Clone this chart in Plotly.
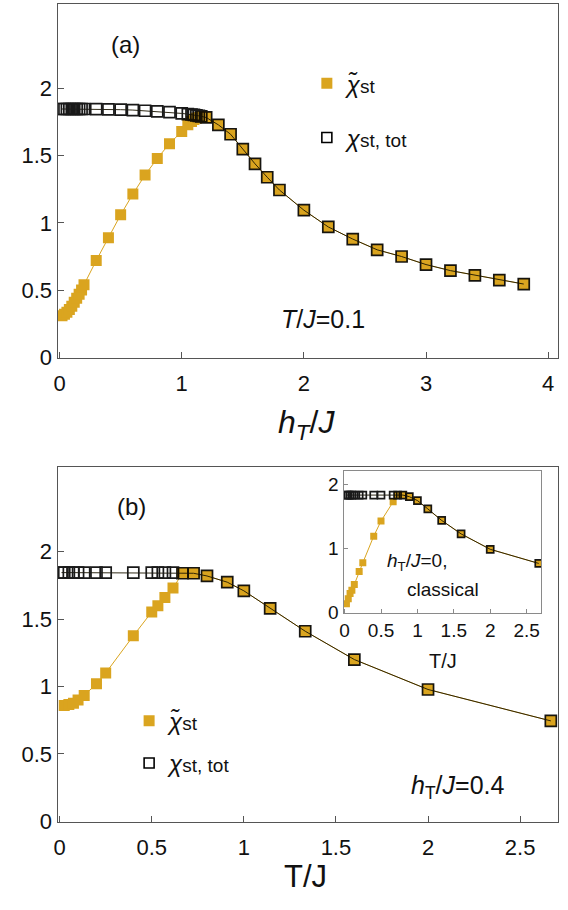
import plotly.graph_objects as go

# ---------------- data ----------------
# panel (a): T/J = 0.1, field dependence
ha_gold = [0.02, 0.04, 0.06, 0.08, 0.10, 0.12, 0.14, 0.16, 0.18, 0.20,
           0.3, 0.4, 0.5, 0.6, 0.7, 0.8, 0.9, 1.0, 1.05, 1.08, 1.1, 1.12, 1.14, 1.16,
           1.2, 1.3, 1.4, 1.5, 1.6, 1.7, 1.8, 2.0, 2.2, 2.4, 2.6, 2.8, 3.0, 3.2, 3.4, 3.6, 3.8]
chi_a_gold = [0.31, 0.32, 0.335, 0.355, 0.38, 0.41, 0.44, 0.47, 0.50, 0.54,
              0.72, 0.89, 1.06, 1.215, 1.357, 1.48, 1.59, 1.68, 1.73, 1.755, 1.77, 1.78, 1.785, 1.79,
              1.785, 1.73, 1.66, 1.55, 1.44, 1.34, 1.245, 1.095, 0.97, 0.88, 0.80, 0.75, 0.69, 0.645, 0.61, 0.575, 0.545]
ha_tot = [0.02, 0.04, 0.06, 0.08, 0.10, 0.12, 0.14, 0.16, 0.18, 0.20,
          0.3, 0.4, 0.5, 0.6, 0.7, 0.8, 0.9, 1.0, 1.05, 1.08, 1.1, 1.12, 1.14, 1.16,
          1.2, 1.3, 1.4, 1.5, 1.6, 1.7, 1.8, 2.0, 2.2, 2.4, 2.6, 2.8, 3.0, 3.2, 3.4, 3.6, 3.8]
chi_a_tot = [1.848, 1.848, 1.848, 1.848, 1.848, 1.848, 1.848, 1.848, 1.848, 1.848,
             1.847, 1.845, 1.843, 1.84, 1.835, 1.83, 1.825, 1.815, 1.81, 1.807, 1.805, 1.80, 1.797, 1.793,
             1.785, 1.73, 1.66, 1.55, 1.44, 1.34, 1.245, 1.095, 0.97, 0.88, 0.80, 0.75, 0.69, 0.645, 0.61, 0.575, 0.545]

# panel (b): h_T/J = 0.4, temperature dependence
tb_gold = [0.025, 0.05, 0.075, 0.1, 0.1333, 0.2, 0.25, 0.4, 0.5, 0.5333, 0.5714, 0.6154,
           0.6667, 0.7273, 0.8, 0.91, 1.0, 1.1429, 1.3333, 1.6, 2.0, 2.6667]
chi_b_gold = [0.86, 0.866, 0.875, 0.90, 0.934, 1.02, 1.10, 1.376, 1.553, 1.60, 1.66, 1.73,
              1.84, 1.84, 1.82, 1.774, 1.71, 1.58, 1.41, 1.20, 0.978, 0.745]
tb_tot = [0.01, 0.025, 0.05, 0.075, 0.1, 0.1333, 0.2, 0.25, 0.4, 0.5, 0.5333, 0.5714, 0.6154,
          0.6667, 0.7273, 0.8, 0.91, 1.0, 1.1429, 1.3333, 1.6, 2.0, 2.6667]
chi_b_tot = [1.845, 1.845, 1.845, 1.845, 1.845, 1.845, 1.845, 1.845, 1.845, 1.845, 1.845, 1.845, 1.845,
             1.84, 1.84, 1.82, 1.774, 1.71, 1.58, 1.41, 1.20, 0.978, 0.745]

# inset: h_T/J = 0, classical
ti_gold = [0.025, 0.05, 0.075, 0.1, 0.1333, 0.2, 0.25, 0.4, 0.5, 0.6667,
           0.7273, 0.8, 0.8889, 1.0, 1.1429, 1.3333, 1.6, 2.0, 2.6667]
chi_i_gold = [0.14, 0.22, 0.30, 0.35, 0.44, 0.645, 0.78, 1.195, 1.43, 1.73,
              1.835, 1.835, 1.81, 1.75, 1.62, 1.44, 1.23, 0.99, 0.77]
ti_tot = [0.025, 0.05, 0.075, 0.1, 0.1333, 0.2, 0.25, 0.4, 0.5, 0.6667,
          0.7273, 0.8, 0.8889, 1.0, 1.1429, 1.3333, 1.6, 2.0, 2.6667]
chi_i_tot = [1.835, 1.835, 1.835, 1.835, 1.835, 1.835, 1.835, 1.835, 1.835, 1.835,
             1.835, 1.835, 1.81, 1.75, 1.62, 1.44, 1.23, 0.99, 0.77]

# tick labels
xa_ticks = [0, 1, 2, 3, 4]
xa_text = ["0", "1", "2", "3", "4"]
y_ticks = [0, 0.5, 1, 1.5, 2]
y_text = ["0", "0.5", "1", "1.5", "2"]
xb_ticks = [0, 0.5, 1, 1.5, 2, 2.5]
xb_text = ["0", "0.5", "1", "1.5", "2", "2.5"]
yi_ticks = [0, 1, 2]
yi_text = ["0", "1", "2"]

# ---------------- styling ----------------
W, H = 568, 910
GOLD = "#DAA520"
DARK = "#1c1600"
FONT = "Liberation Sans"
FRAME = "#555555"
INSET_FRAME = "#8a8a8a"


def px(x0, x1):
    return [x0 / W, x1 / W]


def py(top, bottom):
    return [1 - bottom / H, 1 - top / H]


fig = go.Figure()


def add_pair(xg, yg, xt, yt, xa, ya, msize, lw):
    fig.add_trace(go.Scatter(x=xg, y=yg, xaxis=xa, yaxis=ya, mode="lines+markers",
                             line=dict(color=GOLD, width=lw),
                             marker=dict(symbol="square", size=msize, color=GOLD,
                                         line=dict(width=0)),
                             showlegend=False, hoverinfo="skip"))
    fig.add_trace(go.Scatter(x=xt, y=yt, xaxis=xa, yaxis=ya, mode="lines+markers",
                             line=dict(color=DARK, width=lw),
                             marker=dict(symbol="square-open", size=msize, color="black",
                                         line=dict(width=1.7, color="black")),
                             opacity=0.9,
                             showlegend=False, hoverinfo="skip"))


add_pair(ha_gold, chi_a_gold, ha_tot, chi_a_tot, "x", "y", 11, 1)
add_pair(tb_gold, chi_b_gold, tb_tot, chi_b_tot, "x2", "y2", 11, 1)
add_pair(ti_gold, chi_i_gold, ti_tot, chi_i_tot, "x3", "y3", 7, 1)

chi_t = "<i>χ̃</i><span style='font-size:19px'>st</span>"
chi_tot = "<i>χ</i><span style='font-size:19px'>st, tot</span>"

for lg in ["legend", "legend2"]:
    fig.add_trace(go.Scatter(x=[None], y=[None], mode="markers", name=chi_t, legend=lg,
                             legendgroup=lg + "a",
                             marker=dict(symbol="square", size=11, color=GOLD, line=dict(width=0))))
    fig.add_trace(go.Scatter(x=[None], y=[None], mode="markers", name=chi_tot, legend=lg,
                             legendgroup=lg + "b",
                             marker=dict(symbol="square-open", size=10, color="black",
                                         line=dict(width=1.6, color="black"))))

axis_common = dict(showline=True, mirror=True, linecolor=FRAME, linewidth=1.2,
                   ticks="inside", ticklen=6, tickcolor=FRAME, tickwidth=1,
                   showgrid=False, zeroline=False,
                   tickfont=dict(family=FONT, size=22, color="#111111"))
inset_axis = {**axis_common, "linecolor": INSET_FRAME, "tickcolor": INSET_FRAME,
              "ticklen": 4, "tickfont": dict(family=FONT, size=19, color="#111111")}

fig.update_layout(
    width=W, height=H, margin=dict(l=0, r=0, t=0, b=0),
    paper_bgcolor="white", plot_bgcolor="white",
    font=dict(family=FONT, color="#111111"),
    xaxis=dict(domain=px(54, 558), range=[-0.016, 4.081], anchor="y",
               tickmode="array", tickvals=xa_ticks, ticktext=xa_text,
               ticklabelstandoff=5, **axis_common),
    yaxis=dict(domain=py(4, 363), range=[-0.007, 2.63], anchor="x",
               tickmode="array", tickvals=y_ticks, ticktext=y_text, **axis_common),
    xaxis2=dict(domain=px(54, 558), range=[-0.011, 2.706], anchor="y2",
                tickmode="array", tickvals=xb_ticks, ticktext=xb_text,
                ticklabelstandoff=5, **axis_common),
    yaxis2=dict(domain=py(473, 833), range=[-0.005, 2.63], anchor="x2",
                tickmode="array", tickvals=y_ticks, ticktext=y_text, **axis_common),
    xaxis3=dict(domain=px(342, 541), range=[-0.014, 2.7], anchor="y3",
                tickmode="array", tickvals=xb_ticks, ticktext=xb_text, **inset_axis),
    yaxis3=dict(domain=py(477, 621), range=[0, 2.215], anchor="x3",
                tickmode="array", tickvals=yi_ticks, ticktext=yi_text, **inset_axis),
    legend=dict(x=305 / W, y=1 - 62 / H, xanchor="left", yanchor="top",
                bgcolor="rgba(0,0,0,0)", font=dict(family=FONT, size=24, color="#111111"),
                tracegroupgap=20, itemwidth=30),
    legend2=dict(x=126 / W, y=1 - 708 / H, xanchor="left", yanchor="top",
                 bgcolor="rgba(0,0,0,0)", font=dict(family=FONT, size=24, color="#111111"),
                 tracegroupgap=8, itemwidth=30),
)

ann = [
    dict(text="(a)", x=122, y=45, size=24),
    dict(text="<i>T</i>/<i>J</i>=0.1", x=321, y=323, size=25),
    dict(text="<i>h<sub>T</sub></i>/<i>J</i>", x=305, y=430, size=32),
    dict(text="(b)", x=128, y=513, size=24),
    dict(text="<i>h</i><sub>T</sub>/<i>J</i>=0.4", x=457, y=798, size=25),
    dict(text="T/J", x=304, y=888, size=31),
    dict(text="<i>h</i><sub>T</sub>/<i>J</i>=0,", x=416, y=570, size=19),
    dict(text="classical", x=442, y=597, size=19),
    dict(text="T/J", x=442, y=670, size=20),
]
for a in ann:
    fig.add_annotation(text=a["text"], x=a["x"] / W, y=1 - a["y"] / H, xref="paper", yref="paper",
                       xanchor="center", yanchor="middle", showarrow=False,
                       font=dict(family=FONT, size=a["size"], color="#111111"))

fig.write_html("out.html")
